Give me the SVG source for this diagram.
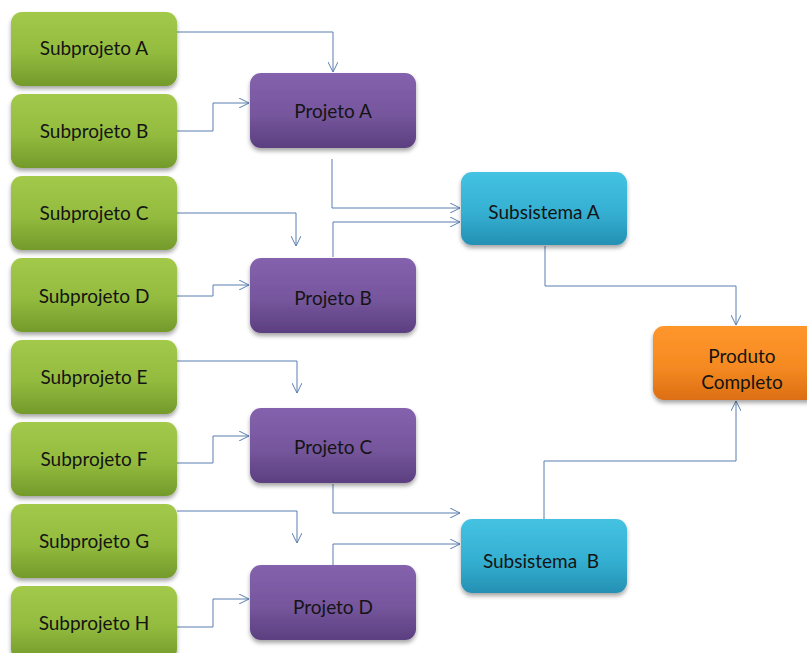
<svg xmlns="http://www.w3.org/2000/svg" width="807" height="653" viewBox="0 0 807 653">
  <defs>
    <linearGradient id="gGreen" x1="0" y1="0" x2="0" y2="1">
      <stop offset="0" stop-color="#a3c94b"/>
      <stop offset="0.55" stop-color="#93bb3e"/>
      <stop offset="1" stop-color="#739a2b"/>
    </linearGradient>
    <linearGradient id="gPurple" x1="0" y1="0" x2="0" y2="1">
      <stop offset="0" stop-color="#8462ad"/>
      <stop offset="0.55" stop-color="#76569d"/>
      <stop offset="1" stop-color="#5b3f80"/>
    </linearGradient>
    <linearGradient id="gCyan" x1="0" y1="0" x2="0" y2="1">
      <stop offset="0" stop-color="#45c2e2"/>
      <stop offset="0.55" stop-color="#34b0d2"/>
      <stop offset="1" stop-color="#2590b3"/>
    </linearGradient>
    <linearGradient id="gOrange" x1="0" y1="0" x2="0" y2="1">
      <stop offset="0" stop-color="#ff962c"/>
      <stop offset="0.55" stop-color="#f58a22"/>
      <stop offset="1" stop-color="#dc6e14"/>
    </linearGradient>
    <filter id="shadow" x="-10%" y="-10%" width="120%" height="130%">
      <feDropShadow dx="0" dy="3" stdDeviation="2" flood-color="#000" flood-opacity="0.35"/>
    </filter>
    <marker id="arrow" viewBox="0 0 10 10" refX="10" refY="5" markerWidth="10" markerHeight="10" markerUnits="userSpaceOnUse" orient="auto">
      <path d="M0,0 L10,5 L0,10" fill="none" stroke="#5b7fb0" stroke-width="1"/>
    </marker>
  </defs>
  <style>
    .box { filter: url(#shadow); }
    .green { fill: url(#gGreen); }
    .purple { fill: url(#gPurple); }
    .cyan { fill: url(#gCyan); }
    .orange { fill: url(#gOrange); }
    .label { font-family: Lato, "Open Sans", "Liberation Sans", sans-serif; font-size: 19px; fill: #141414; text-anchor: middle; dominant-baseline: central; }
    .link { fill: none; stroke: #5b7fb0; stroke-width: 1; marker-end: url(#arrow); }
  </style>

  <rect width="807" height="653" fill="#ffffff"/>

  <!-- connectors -->
  <g id="connectors">
    <path class="link" d="M177,32 H333 V72"/>
    <path class="link" d="M177,131 H213 V103 H249"/>
    <path class="link" d="M177,213 H296 V246"/>
    <path class="link" d="M177,296 H213 V285 H249"/>
    <path class="link" d="M177,361 H297 V393"/>
    <path class="link" d="M177,463 H213 V436 H249"/>
    <path class="link" d="M177,511 H297 V543"/>
    <path class="link" d="M177,627 H213 V599 H249"/>
    <path class="link" d="M332,159 V208 H460"/>
    <path class="link" d="M333,257 V222 H460"/>
    <path class="link" d="M333,484 V513 H460"/>
    <path class="link" d="M333,565 V544 H460"/>
    <path class="link" d="M545,246 V286 H736 V325"/>
    <path class="link" d="M544,519 V461 H736 V401"/>
  </g>

  <!-- leaf work packages -->
  <g id="subprojeto-a"><rect class="box green" x="11" y="12" width="166" height="74" rx="11"/><text class="label" x="94" y="47">Subprojeto A</text></g>
  <g id="subprojeto-b"><rect class="box green" x="11" y="94" width="166" height="74" rx="11"/><text class="label" x="94" y="130">Subprojeto B</text></g>
  <g id="subprojeto-c"><rect class="box green" x="11" y="176" width="166" height="74" rx="11"/><text class="label" x="94" y="212">Subprojeto C</text></g>
  <g id="subprojeto-d"><rect class="box green" x="11" y="258" width="166" height="74" rx="11"/><text class="label" x="94" y="295">Subprojeto D</text></g>
  <g id="subprojeto-e"><rect class="box green" x="11" y="340" width="166" height="74" rx="11"/><text class="label" x="94" y="376">Subprojeto E</text></g>
  <g id="subprojeto-f"><rect class="box green" x="11" y="422" width="166" height="74" rx="11"/><text class="label" x="94" y="458">Subprojeto F</text></g>
  <g id="subprojeto-g"><rect class="box green" x="11" y="504" width="166" height="74" rx="11"/><text class="label" x="94" y="540">Subprojeto G</text></g>
  <g id="subprojeto-h"><rect class="box green" x="11" y="586" width="166" height="74" rx="11"/><text class="label" x="94" y="622">Subprojeto H</text></g>

  <!-- projects -->
  <g id="projeto-a"><rect class="box purple" x="250" y="73" width="166" height="75" rx="11"/><text class="label" x="333" y="110">Projeto A</text></g>
  <g id="projeto-b"><rect class="box purple" x="250" y="258" width="166" height="75" rx="11"/><text class="label" x="333" y="297">Projeto B</text></g>
  <g id="projeto-c"><rect class="box purple" x="250" y="408" width="166" height="75" rx="11"/><text class="label" x="333" y="446">Projeto C</text></g>
  <g id="projeto-d"><rect class="box purple" x="250" y="565" width="166" height="75" rx="11"/><text class="label" x="333" y="606">Projeto D</text></g>

  <!-- subsystems -->
  <g id="subsistema-a"><rect class="box cyan" x="461" y="172" width="166" height="73" rx="11"/><text class="label" x="544" y="211">Subsistema A</text></g>
  <g id="subsistema-b"><rect class="box cyan" x="461" y="519" width="166" height="74" rx="11"/><text class="label" x="541" y="560" xml:space="preserve">Subsistema  B</text></g>

  <!-- final product -->
  <g id="produto-completo"><rect class="box orange" x="653" y="326" width="178" height="74" rx="11"/><text class="label" x="742" y="355">Produto</text><text class="label" x="742" y="381">Completo</text></g>
</svg>
